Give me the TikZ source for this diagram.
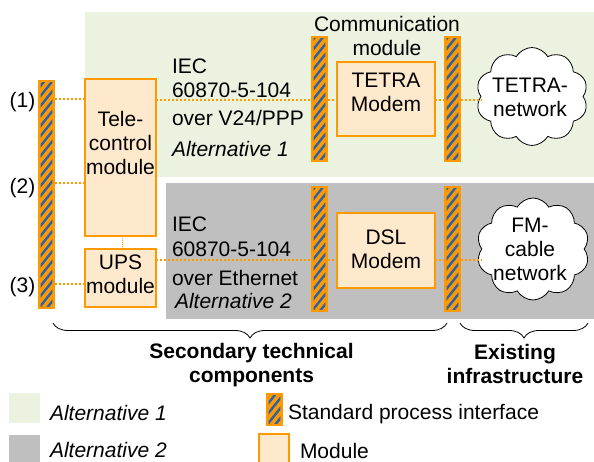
\documentclass[tikz,border=0pt]{standalone}
\usepackage{fontspec}
\setmainfont{Liberation Sans}
\usetikzlibrary{shapes.symbols,decorations.pathreplacing}
\definecolor{orng}{HTML}{FF9900}
\definecolor{peach}{HTML}{FFE9CC}
\definecolor{altone}{HTML}{EBF2E0}
\definecolor{alttwo}{HTML}{BFBFBF}
\definecolor{stripeblue}{HTML}{2A62AC}
\begin{document}
\begin{tikzpicture}[x=1pt,y=-1pt,
  every node/.style={font=\fontsize{21}{24}\selectfont, inner sep=0pt, outer sep=0pt},
  modbox/.style={draw=orng, fill=peach, line width=2pt},
  modlbl/.style={align=center},
  ifacebar/.style={draw=orng, fill=orng, line width=0.8pt, minimum width=16pt,
    path picture={
      \clip ([xshift=2.2pt,yshift=2.2pt]path picture bounding box.south west) rectangle ([xshift=-2.2pt,yshift=-2.2pt]path picture bounding box.north east);
      \foreach \k in {-3,...,26}{\draw[stripeblue,line width=2.4pt] ([yshift=\k*10pt]path picture bounding box.south west) -- ++(24,-30);}
    }},
  link/.style={draw=orng, line width=2pt, dash pattern=on 2pt off 2pt},
  thinlink/.style={draw=orng, line width=1pt, dash pattern=on 1pt off 1pt},
  netcloud/.style={cloud, cloud puffs=10, cloud puff arc=120, aspect=1.5, draw=black, fill=white, line width=0.8pt},
  brc/.style={decorate, decoration={brace, mirror, amplitude=15pt}, line width=0.8pt},
  hdr/.style={font=\fontsize{21}{24}\selectfont\bfseries, align=center},
  itl/.style={font=\fontsize{21}{24}\selectfont\itshape},
  ]
\useasboundingbox (0,0) rectangle (594,462);
% backgrounds
\fill[altone] (85,12) rectangle (594,177);
\fill[alttwo] (166,183) rectangle (594,319);
% row coordinates
\coordinate (r1) at (0,99.5);
\coordinate (r2) at (0,183);
\coordinate (r3) at (0,284);
\coordinate (row1) at (0,100);
\coordinate (row2) at (0,260);
% interface bars
\node[ifacebar, minimum height=228pt] (L) at (46.5,194.5) {};
\node[ifacebar, minimum height=125pt] (B2t) at (319.5,99) {};
\node[ifacebar, minimum height=125pt] (B3t) at (452.5,99) {};
\node[ifacebar, minimum height=125pt] (B2b) at (319.5,249) {};
\node[ifacebar, minimum height=125pt] (B3b) at (452.5,249) {};
% modules
\node[modbox, minimum width=71pt, minimum height=157pt, label={[modlbl,yshift=15pt]center:{Tele-\\control\\module}}] (tele) at (120.5,157.5) {};
\node[modbox, minimum width=71pt, minimum height=58pt, label={[modlbl,yshift=3.6pt]center:{UPS\\module}}] (ups) at (120.5,278) {};
\node[modbox, minimum width=98pt, minimum height=74pt, label={[modlbl,yshift=6.6pt]center:{TETRA\\Modem}}] (tetra) at (386,99) {};
\node[modbox, minimum width=98pt, minimum height=75pt, label={[modlbl,yshift=1.6pt]center:{DSL\\Modem}}] (dsl) at (386,250.5) {};
% clouds
\node[netcloud, minimum width=112pt, minimum height=98pt, label={[modlbl,xshift=-2pt,yshift=-0.5pt]center:{TETRA-\\network}}] (tnet) at (532,96.5) {};
\node[netcloud, minimum width=113pt, minimum height=102pt, label={[modlbl,xshift=-3pt,yshift=-0.85pt]center:{FM-\\cable\\network}}] (fmnet) at (533,249) {};
% links
\draw[link] (L.east |- r1) -- (tele.west |- r1);
\draw[link] (L.east |- r2) -- (tele.west |- r2);
\draw[link] (L.east |- r3) -- (ups.west |- r3);
\draw[link] (tele.east |- row1) -- (B2t.west |- row1);
\draw[link] (B2t.east |- row1) -- (tetra.west |- row1);
\draw[link] (tetra.east |- row1) -- (B3t.west |- row1);
\draw[link] (B3t.east |- row1) -- (tnet.west |- row1);
\draw[link] (ups.east |- row2) -- (B2b.west |- row2);
\draw[link] (B2b.east |- row2) -- (dsl.west |- row2);
\draw[link] (dsl.east |- row2) -- (B3b.west |- row2);
\draw[link] (B3b.east |- row2) -- (fmnet.west |- row2);
\draw[thinlink] ([xshift=2pt]tele.south) -- ([xshift=2pt]ups.north);
% texts
\node[modlbl] (comm) at (387,36.4) {Communication\\module};
\node[anchor=base west] (iecA1) at (172,73.5) {IEC};
\node[anchor=base west] (iecA2) at (172,97.5) {60870-5-104};
\node[anchor=base west] (iecA3) at (172,125.5) {over V24/PPP};
\node[anchor=base west, itl] (altA) at (172,157) {Alternative 1};
\node[anchor=base west] (iecB1) at (172,232) {IEC};
\node[anchor=base west] (iecB2) at (172,257) {60870-5-104};
\node[anchor=base west] (iecB3) at (172,285) {over Ethernet};
\node[anchor=base west, itl] (altB) at (175,308) {Alternative 2};
\node (n1) at (22.5,101.7) {(1)};
\node (n2) at (22.5,188.3) {(2)};
\node (n3) at (22.5,286.7) {(3)};
% braces
\coordinate (b1l) at (53,323);
\coordinate (b1r) at (447,323);
\coordinate (b2l) at (460,323);
\coordinate (b2r) at (588,323);
\draw[brc] (b1l) -- (b1r);
\draw[brc] (b2l) -- (b2r);
\node[hdr] (sec) at (251.5,365.5) {Secondary technical\\components};
\node[hdr] (exist) at (515,364) {Existing\\infrastructure};
% legend
\node[fill=altone, minimum width=31pt, minimum height=30pt] (leg1) at (24.5,408) {};
\node[fill=alttwo, minimum width=31pt, minimum height=32pt] (leg2) at (24.5,451) {};
\node[anchor=base west, itl] (legt1) at (50,420) {Alternative 1};
\node[anchor=base west, itl] (legt2) at (50,457.5) {Alternative 2};
\node[ifacebar, minimum height=32pt] (legbar) at (274.5,409.5) {};
\node[anchor=base west] (legt3) at (288,419.5) {Standard process interface};
\node[modbox, minimum width=30pt, minimum height=35pt] (legmod) at (274,451.5) {};
\node[anchor=base west] (legt4) at (300,458) {Module};
\end{tikzpicture}
\end{document}
